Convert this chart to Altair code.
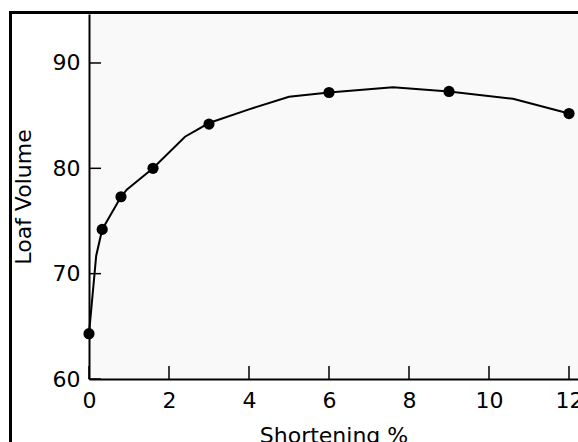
import altair as alt
import pandas as pd

# fitted curve
curve_x = [0, 0.18, 0.33, 0.8, 0.95, 1.6, 2.4, 3.0, 4.0, 5.0, 6.0, 7.6, 9.0, 10.6, 12.0]
curve_y = [64.3, 71.7, 74.2, 77.3, 78.0, 80.0, 83.0, 84.3, 85.6, 86.8, 87.2, 87.7, 87.3, 86.6, 85.2]

# observed points
pts_x = [0, 0.33, 0.8, 1.6, 3.0, 6.0, 9.0, 12.0]
pts_y = [64.3, 74.2, 77.3, 80.0, 84.2, 87.2, 87.3, 85.2]

x_ticks = [0, 2, 4, 6, 8, 10, 12]
y_ticks = [60, 70, 80, 90]

W, H = 489, 365
FONT = "DejaVu Sans"

curve = pd.DataFrame({"x": curve_x, "y": curve_y})
pts = pd.DataFrame({"x": pts_x, "y": pts_y})
xt = pd.DataFrame({"x": x_ticks})
yt = pd.DataFrame({"y": y_ticks})

xs = alt.Scale(domain=[0, 12.225], nice=False, zero=False)
ys = alt.Scale(domain=[60, 94.65], nice=False, zero=False)

xaxis = alt.Axis(values=x_ticks, ticks=False, grid=False, domainColor="black",
                 domainWidth=2, labelFont=FONT, labelFontSize=22, labelColor="black",
                 labelPadding=11, labelFlush=False, labelOverlap=False,
                 titleFont=FONT, titleFontSize=22,
                 titleFontWeight="normal", titleColor="black", titlePadding=14)
yaxis = alt.Axis(values=y_ticks, ticks=False, grid=False, domainColor="black",
                 domainWidth=2, labelFont=FONT, labelFontSize=22, labelColor="black",
                 labelPadding=9, labelFlush=False, labelOverlap=False,
                 titleFont=FONT, titleFontSize=22,
                 titleFontWeight="normal", titleColor="black", titlePadding=17)

XT = "Shortening %"
YT = "Loaf Volume"

line = alt.Chart(curve).mark_line(color="black", strokeWidth=2).encode(
    x=alt.X("x:Q", scale=xs, title=XT, axis=xaxis),
    y=alt.Y("y:Q", scale=ys, title=YT, axis=yaxis),
    order="x:Q",
)

points = alt.Chart(pts).mark_circle(color="black", opacity=1, size=125).encode(
    x=alt.X("x:Q", scale=xs, title=XT, axis=xaxis),
    y=alt.Y("y:Q", scale=ys, title=YT, axis=yaxis),
)

xtick = alt.Chart(xt).mark_rule(color="black", strokeWidth=1.5).encode(
    x=alt.X("x:Q", scale=xs, title=XT, axis=xaxis),
    y=alt.value(H),
    y2=alt.value(H - 13),
)

ytick = alt.Chart(yt).mark_rule(color="black", strokeWidth=1.5).encode(
    y=alt.Y("y:Q", scale=ys, title=YT, axis=yaxis),
    x=alt.value(0),
    x2=alt.value(12),
)

border_top = alt.Chart(pd.DataFrame({"a": [0]})).mark_rule(
    color="black", strokeWidth=3, strokeCap="square").encode(
    x=alt.value(-78.5), x2=alt.value(W + 50), y=alt.value(-1.5))
border_left = alt.Chart(pd.DataFrame({"a": [0]})).mark_rule(
    color="black", strokeWidth=3, strokeCap="square").encode(
    x=alt.value(-78.5), y=alt.value(-1.5), y2=alt.value(H + 100))

chart = alt.layer(line, points, xtick, ytick, border_top, border_left).properties(
    width=W, height=H,
    autosize=alt.AutoSizeParams(type="none"),
    padding={"left": 89, "top": 14, "right": 0, "bottom": 63},
    background="white",
).configure_view(fill="#f9f9f9", stroke=None)

chart.save("out.html", embed_options={"renderer": "svg", "actions": False})
